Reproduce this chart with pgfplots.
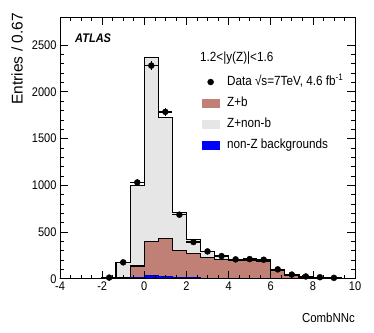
\documentclass[border=0pt]{standalone}
\usepackage{fontspec}
\setmainfont{Liberation Sans}[FakeStretch=0.88]
\newfontfamily\ylabfont{Liberation Sans}
\usepackage{pgfplots}
\usepackage{pgfplotstable}
\pgfplotsset{compat=1.18}
\definecolor{zbcol}{RGB}{193,128,118}
\definecolor{znbcol}{RGB}{230,230,230}
\definecolor{bkgcol}{RGB}{0,0,255}
\pgfplotsset{boxleg/.style={legend image code/.code={\fill[##1, draw=none] (0pt,-4.5pt) rectangle (18pt,4.5pt);}}}

% bin left edges (width 2/3), last row repeats the last bin to close the step
\pgfplotstableread{
x bkg zb znb
-4 0 0 0
-3.3333 0 0 0
-2.6667 0 0 0
-2 0 1 11
-1.3333 1 5 169
-0.6667 10 125 860
0 30 366 1972
0.6667 20 408 1298
1.3333 12 290 406
2 8 260 150
2.6667 6 222 62
3.3333 5 200 35
4 5 195 7
4.6667 4 196 7
5.3333 4 178 18
6 2 88 10
6.6667 1 38 6
7.3333 1 17 4
8 0 10 3
8.6667 0 5 2
9.3333 0 2 1
10 0 2 1
}\mc

\pgfplotstableread{
x y ex ey
-1.6667 12 0.3333 3.5
-1 175 0.3333 13
-0.3333 1030 0.3333 32
0.3333 2280 0.3333 48
1 1785 0.3333 42
1.6667 685 0.3333 26
2.3333 392 0.3333 20
3 292 0.3333 17
3.6667 242 0.3333 16
4.3333 207 0.3333 14
5 210 0.3333 14
5.6667 203 0.3333 14
6.3333 100 0.3333 10
7 44 0.3333 7
7.6667 24 0.3333 5
8.3333 16 0.3333 4
9 9 0.3333 3
}\datatab

\begin{document}
\begin{tikzpicture}
\useasboundingbox (-60pt,-53.3pt) rectangle (314pt,278.7pt);
\begin{axis}[
  at={(0pt,0pt)}, anchor=south west,
  scale only axis, width=295pt, height=261.7pt,
  xmin=-4, xmax=10, ymin=0, ymax=2800,
  xtick={-4,-2,...,10}, ytick={0,500,...,2500},
  minor x tick num=3, minor y tick num=4,
  tick align=inside, tick pos=both,
  major tick length=8pt, minor tick length=4pt,
  every tick/.style={black, line width=0.6pt},
  axis line style={line width=0.8pt},
  axis on top,
  ticklabel style={font=\fontsize{12.5}{14}\selectfont},
  /pgf/number format/assume math mode=true,
  /pgf/number format/1000 sep={},
  legend style={at={(0.481,0.778)}, anchor=north west, draw=none, fill=none,
    inner sep=0pt, row sep=7.6pt, column sep=6pt,
    font=\fontsize{13.3}{15}\selectfont,
    nodes={inner sep=1pt, text height=9pt, text depth=2.5pt}},
  legend cell align=left,
]
\addplot[forget plot, const plot, fill=znbcol, draw=black, line width=1.4pt]
  table[x=x, y expr=\thisrow{bkg}+\thisrow{zb}+\thisrow{znb}] {\mc} \closedcycle;
\addplot[forget plot, const plot, fill=zbcol, draw=black, line width=1.4pt]
  table[x=x, y expr=\thisrow{bkg}+\thisrow{zb}] {\mc} \closedcycle;
\addplot[forget plot, const plot, fill=bkgcol, draw=blue!70!black, line width=1pt]
  table[x=x, y=bkg] {\mc} \closedcycle;
\addplot[forget plot, only marks, mark=*, mark size=3pt, black,
  error bars/.cd, x dir=both, x explicit, y dir=both, y explicit,
  error mark=none, error bar style={line width=1.3pt, black}]
  table[x=x, y=y, x error=ex, y error=ey] {\datatab};

\addlegendimage{only marks, mark=*, mark size=3pt, black}
\addlegendentry{Data √s=7TeV, 4.6 fb\textsuperscript{-1}}
\addlegendimage{boxleg, fill=zbcol}
\addlegendentry{Z+b}
\addlegendimage{boxleg, fill=znbcol}
\addlegendentry{Z+non-b}
\addlegendimage{boxleg, fill=bkgcol}
\addlegendentry{non-Z backgrounds}
\end{axis}
\node[anchor=west, inner sep=0pt, font=\fontsize{12.5}{14}\selectfont\bfseries\itshape] at (15pt,241pt) {ATLAS};
\node[anchor=west, inner sep=0pt, font=\fontsize{13.3}{15}\selectfont] at (140pt,220.4pt) {1.2<|y(Z)|<1.6};
\node[anchor=east, inner sep=0pt, font=\fontsize{13}{15}\selectfont] at (295pt,-39.3pt) {CombNNc};
\node[rotate=90, anchor=east, inner sep=0pt, font=\fontsize{15.5}{17}\ylabfont] at (-43pt,265.7pt) {Entries / 0.67};
\end{tikzpicture}
\end{document}
